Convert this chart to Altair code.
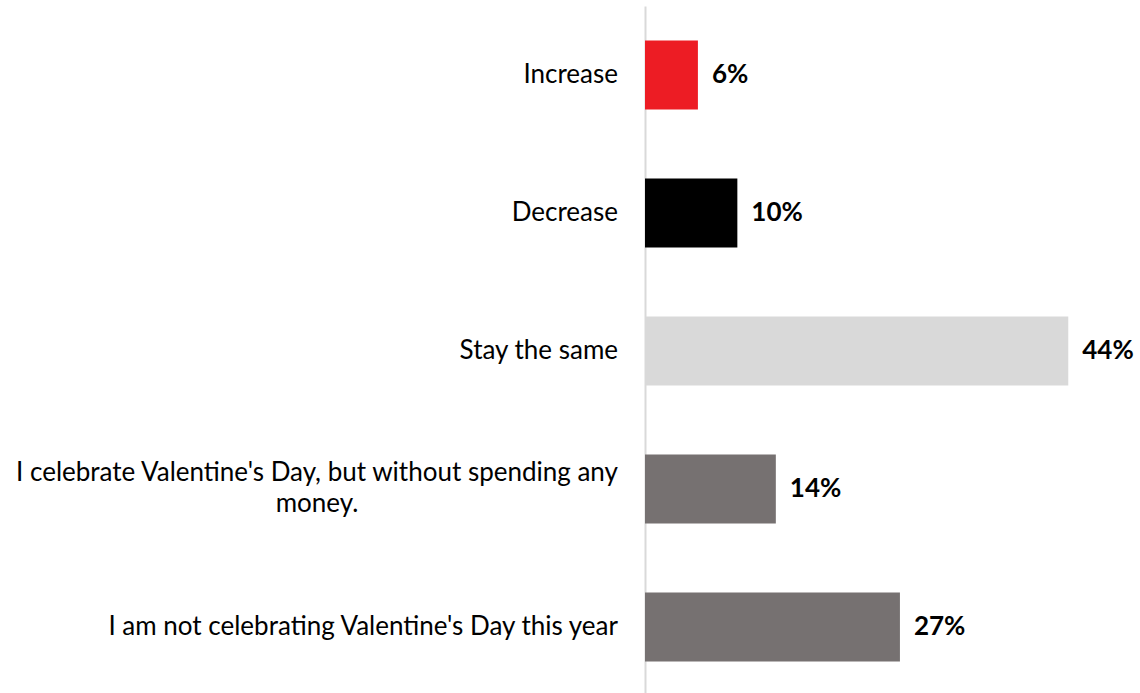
import altair as alt
import pandas as pd

categories = [
    "Increase",
    "Decrease",
    "Stay the same",
    "I celebrate Valentine's Day, but without spending any money.",
    "I am not celebrating Valentine's Day this year",
]
values = [5.5, 9.6, 44.0, 13.6, 26.5]
value_labels = ["6%", "10%", "44%", "14%", "27%"]
bar_colors = ["#ED1C24", "#000000", "#D9D9D9", "#767171", "#767171"]
label_lines = [
    ["Increase"],
    ["Decrease"],
    ["Stay the same"],
    ["I celebrate Valentine's Day, but without spending any", "money."],
    ["I am not celebrating Valentine's Day this year"],
]

df = pd.DataFrame({
    "category": categories,
    "value": values,
    "label": value_labels,
    "color": bar_colors,
    "display": ["\n".join(l) for l in label_lines],
    "wrapped": [len(l) > 1 for l in label_lines],
})

FONT = "Lato"
FS = 26

y = alt.Y(
    "category:N",
    sort=categories,
    scale=alt.Scale(paddingInner=0.5, paddingOuter=0.25),
    axis=alt.Axis(title=None, labels=False, ticks=False, domain=True,
                  domainColor="#D9D9D9", domainWidth=2, grid=False),
)
x = alt.X("value:Q", scale=alt.Scale(domain=[0, 50]), axis=None)

base = alt.Chart(df)
bars = base.mark_bar().encode(y=y, x=x, color=alt.Color("color:N", scale=None))
pct = base.mark_text(align="left", baseline="middle", dx=14, font=FONT,
                     fontWeight="bold", fontSize=26, color="#000000").encode(
    y=y, x=x, text="label:N")
names = base.transform_filter("!datum.wrapped").mark_text(
    align="right", baseline="middle", font=FONT, fontSize=FS, color="#000000"
).encode(y=y, x=alt.value(-27), text="display:N")
wrapped = base.transform_filter("datum.wrapped").mark_text(
    align="center", baseline="middle", lineBreak="\n", lineHeight=31, dy=-16,
    font=FONT, fontSize=FS, color="#000000"
).encode(y=y, x=alt.value(-328), text="display:N")

chart = alt.layer(bars, pct, names, wrapped).properties(
    width=481, height=690,
    padding={"left": 15, "top": 6, "right": 0, "bottom": 0},
).configure_view(stroke=None)

chart.save("out.html", embed_options={"renderer": "svg", "actions": False})
